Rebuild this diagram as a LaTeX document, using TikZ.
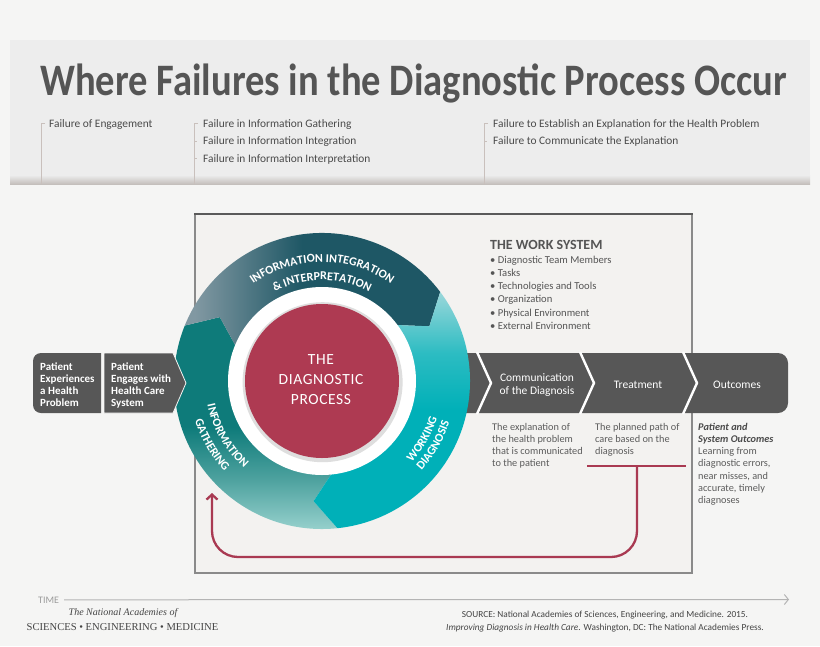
\documentclass[tikz,border=0pt]{standalone}
\usepackage{fontspec}
\setmainfont{Carlito}
\newfontfamily\nasserif{Liberation Serif}
\usetikzlibrary{arrows.meta,decorations.text,calc}
\definecolor{bgc}{HTML}{F5F5F4}
\definecolor{hdr}{HTML}{EDEDED}
\definecolor{hdrsh}{HTML}{C4BFBC}
\definecolor{brk}{HTML}{C9C0BC}
\definecolor{txt}{HTML}{4A4A4A}
\definecolor{ttl}{HTML}{555555}
\definecolor{wsc}{HTML}{555555}
\definecolor{dsc}{HTML}{5C5C5C}
\definecolor{barg}{HTML}{575757}
\definecolor{frm}{HTML}{8A8A8A}
\definecolor{frmtop}{HTML}{5A5A5A}
\definecolor{frmfill}{HTML}{F3F2F0}
\definecolor{crim}{HTML}{AE3A52}
\definecolor{intL}{HTML}{8198A2}
\definecolor{intR}{HTML}{1E5765}
\definecolor{gaD}{HTML}{0E7B7A}
\definecolor{gaM}{HTML}{4EA29F}
\definecolor{gaL}{HTML}{A0D7D3}
\definecolor{wdB}{HTML}{00B0B8}
\definecolor{wdM}{HTML}{2CBCC2}
\definecolor{wdT}{HTML}{9AD7DA}
\definecolor{redln}{HTML}{A93A52}
\definecolor{timeg}{HTML}{9C9C9C}
\definecolor{timel}{HTML}{B4B4B4}
\definecolor{foot}{HTML}{444444}
\pgfdeclarehorizontalshading{intshade}{100bp}{color(0bp)=(intL); color(27bp)=(intL); color(48bp)=(intR); color(100bp)=(intR)}
\pgfdeclareverticalshading{gashade}{100bp}{color(0bp)=(gaL); color(25bp)=(gaL); color(38bp)=(gaM); color(50bp)=(gaD); color(100bp)=(gaD)}
\pgfdeclareverticalshading{wdshade}{100bp}{color(0bp)=(wdB); color(50bp)=(wdB); color(62bp)=(wdM); color(75bp)=(wdT); color(100bp)=(wdT)}
\newcommand\fsz[1]{\fontsize{#1}{#1}\selectfont}
\newcommand\ringfont{\fsz{12}\bfseries}
\newcommand\ringseg[2]{(#1:148pt) arc[start angle=#1, end angle=#2, radius=148pt] -- ({#2-10}:120.5pt) -- (#2:93pt) arc[start angle=#2, end angle=#1, radius=93pt] -- ({#1-10}:120.5pt) -- cycle}
\newcommand\linesat[6]{%
  \foreach \lstk [count=\i from 0] in {#6} {%
    \node[#5] (#1\i) at (#2,{#3-\i*#4}) {\lstk};
  }%
}
\begin{document}
\begin{tikzpicture}[x=1pt,y=1pt,
  lbl/.style={anchor=base west, inner sep=0pt, text=txt, font=\fsz{11.4}},
  wsi/.style={anchor=base west, inner sep=0pt, text=wsc, font=\fsz{10.6}},
  ptxt/.style={anchor=base west, inner sep=0pt, text=white, font=\fsz{11}\bfseries},
  chev/.style={anchor=base, inner sep=0pt, text=white, font=\fsz{11.5}},
  desc/.style={anchor=base west, inner sep=0pt, text=dsc, font=\fsz{10.3}},
  descb/.style={anchor=base west, inner sep=0pt, text=txt, font=\fsz{10.3}\bfseries\itshape},
  brkline/.style={draw=brk, line width=0.8pt},
  redline/.style={draw=redln, line width=2.3pt},
  sepline/.style={draw=white, line width=2.4pt},
  ctext/.style={anchor=base, inner sep=0pt, text=white, font=\fsz{15.5}\addfontfeature{LetterSpace=4}},
  arctext/.style={decorate, decoration={text along path, text align=center, text color=white}}
]
\useasboundingbox (0,0) rectangle (820,-646);
\fill[bgc] (0,0) rectangle (820,-646);
% header band
\fill[hdr] (10,-40) rectangle (810,-184);
\shade[top color=hdr, bottom color=hdrsh] (10,-175) rectangle (810,-184);
\node[anchor=base west, inner sep=0pt, text=ttl] (title) at (40,-95)
  {\resizebox{747pt}{\height}{\fsz{45}\bfseries Where Failures in the Diagnostic Process Occur}};
% brackets
\draw[brkline] (45,-123.5) -- (41,-123.5) -- (41,-184);
\draw[brkline] (198,-123.5) -- (194,-123.5) -- (194,-184);
\draw[brkline] (194,-141) -- (197,-141);
\draw[brkline] (194,-158.5) -- (197,-158.5);
\draw[brkline] (488,-123.5) -- (484,-123.5) -- (484,-184);
\draw[brkline] (484,-141) -- (487,-141);
\node[lbl] (f1) at (49,-127) {Failure of Engagement};
\node[lbl] (f2a) at (203,-127) {Failure in Information Gathering};
\node[lbl] (f2b) at (203,-144.5) {Failure in Information Integration};
\node[lbl] (f2c) at (203,-162) {Failure in Information Interpretation};
\node[lbl] (f3a) at (493,-127) {Failure to Establish an Explanation for the Health Problem};
\node[lbl] (f3b) at (493,-144.5) {Failure to Communicate the Explanation};
% frame (work system)
\fill[frmfill] (195,-214) rectangle (692,-573);
\draw[frm, line width=1.3pt] (195,-214) -- (195,-573) -- (692,-573) -- (692,-214);
\draw[frmtop, line width=2.4pt] (194.35,-214) -- (692.65,-214);
\node[anchor=base west, inner sep=0pt, text=wsc, font=\fsz{14}\bfseries] (wst) at (490,-249) {THE WORK SYSTEM};
\linesat{ws}{490}{-263}{13.3}{wsi}{{• Diagnostic Team Members},{• Tasks},{• Technologies and Tools},{• Organization},{• Physical Environment},{• External Environment}}
% process bar (right)
\fill[barg, rounded corners=10pt] (452,-353) rectangle (788,-413);
\draw[sepline] (477,-352) -- (491,-383) -- (477,-414);
\draw[sepline] (580,-352) -- (594,-383) -- (580,-414);
\draw[sepline] (683,-352) -- (697,-383) -- (683,-414);
\node[chev] (c1a) at (537,-381) {Communication};
\node[chev] (c1b) at (537,-394) {of the Diagnosis};
\node[chev] (c2) at (638,-388) {Treatment};
\node[chev] (c3) at (737,-388) {Outcomes};
% ring
\begin{scope}[shift={(322,-381)}]
  \shade[shading=gashade] \ringseg{276}{158};
  \shade[shading=intshade] \ringseg{158}{37};
  \shade[shading=wdshade] \ringseg{37}{-84};
  \fill[white] (0,0) circle (94pt);
  \fill[black!13] (0.6,-1.2) circle (80pt);
  \fill[crim] (0,0) circle (77pt);
  \path[arctext, decoration={text={|\ringfont|INFORMATION INTEGRATION}}] (150:119pt) arc[start angle=150, end angle=30, radius=119pt];
  \path[arctext, decoration={text={|\ringfont|{\&} INTERPRETATION}}] (150:101pt) arc[start angle=150, end angle=30, radius=101pt];
  \path[arctext, decoration={text={|\ringfont|INFORMATION}}] (150:117pt) arc[start angle=150, end angle=270, radius=117pt];
  \path[arctext, decoration={text={|\ringfont|GATHERING}}] (150:133pt) arc[start angle=150, end angle=270, radius=133pt];
  \path[arctext, decoration={text={|\ringfont|WORKING}}] (-90:121pt) arc[start angle=-90, end angle=30, radius=121pt];
  \path[arctext, decoration={text={|\ringfont|DIAGNOSIS}}] (-90:134pt) arc[start angle=-90, end angle=30, radius=134pt];
\end{scope}
\node[ctext] (dp1) at (321,-364) {THE};
\node[ctext] (dp2) at (321,-384) {DIAGNOSTIC};
\node[ctext] (dp3) at (321,-404) {PROCESS};
% patient boxes
\fill[barg] (101,-353) -- (41,-353) arc[start angle=90, end angle=180, radius=8pt] -- (33,-405) arc[start angle=180, end angle=270, radius=8pt] -- (101,-413) -- cycle;
\fill[barg, draw=bgc, line width=0.8pt] (104,-353) -- (173,-353) -- (186,-383) -- (173,-413) -- (104,-413) -- cycle;
\linesat{pa}{40}{-370}{12}{ptxt}{Patient,Experiences,{a Health},Problem}
\linesat{pb}{111}{-370}{12}{ptxt}{Patient,{Engages with},{Health Care},System}
% descriptions
\linesat{da}{492}{-430}{12.2}{desc}{{The explanation of},{the health problem},{that is communicated},{to the patient}}
\linesat{db}{595}{-430}{12.2}{desc}{{The planned path of},{care based on the},{diagnosis}}
\linesat{dc}{698}{-430}{12.3}{descb}{{Patient and},{System Outcomes}}
\linesat{dd}{698}{-454.6}{12.3}{desc}{{Learning from},{diagnostic errors,},{near misses, and},{accurate, timely},{diagnoses}}
% feedback line
\coordinate (rl) at (587,-466);
\coordinate (rr) at (686,-466);
\coordinate (fbs) at (637,-466);
\coordinate (fbe) at (212,-493);
\coordinate (fbb) at (0,-557);
\draw[redline] (rl) -- (rr);
\draw[redline, rounded corners=26pt, -{Straight Barb[length=5pt,width=11pt]}] (fbs) -- (fbs |- fbb) -- (fbe |- fbb) -- (fbe);
% time axis
\node[anchor=base west, inner sep=0pt, text=timeg, font=\fsz{10}] (time) at (38,-603) {TIME};
\coordinate (tend) at (789,-599.5);
\draw[timel, line width=1pt, -{Straight Barb[length=4pt,width=10pt]}] ([xshift=5pt]time.east) -- (tend);
% footer
\node[anchor=base, inner sep=0pt, text=foot, font=\nasserif\itshape\fsz{10}] (nas1) at (123,-615) {The National Academies of};
\node[anchor=base, inner sep=0pt, text=foot, font=\nasserif\fsz{10.6}] (nas2) at (122.5,-630) {SCIENCES • ENGINEERING • MEDICINE};
\node[anchor=base, inner sep=0pt, text=foot, font=\fsz{9.3}] (src1) at (605,-617) {SOURCE: National Academies of Sciences, Engineering, and Medicine. 2015.};
\node[anchor=base, inner sep=0pt, text=foot, font=\fsz{9.3}] (src2) at (605,-630) {\textit{Improving Diagnosis in Health Care}. Washington, DC: The National Academies Press.};
\end{tikzpicture}
\end{document}
